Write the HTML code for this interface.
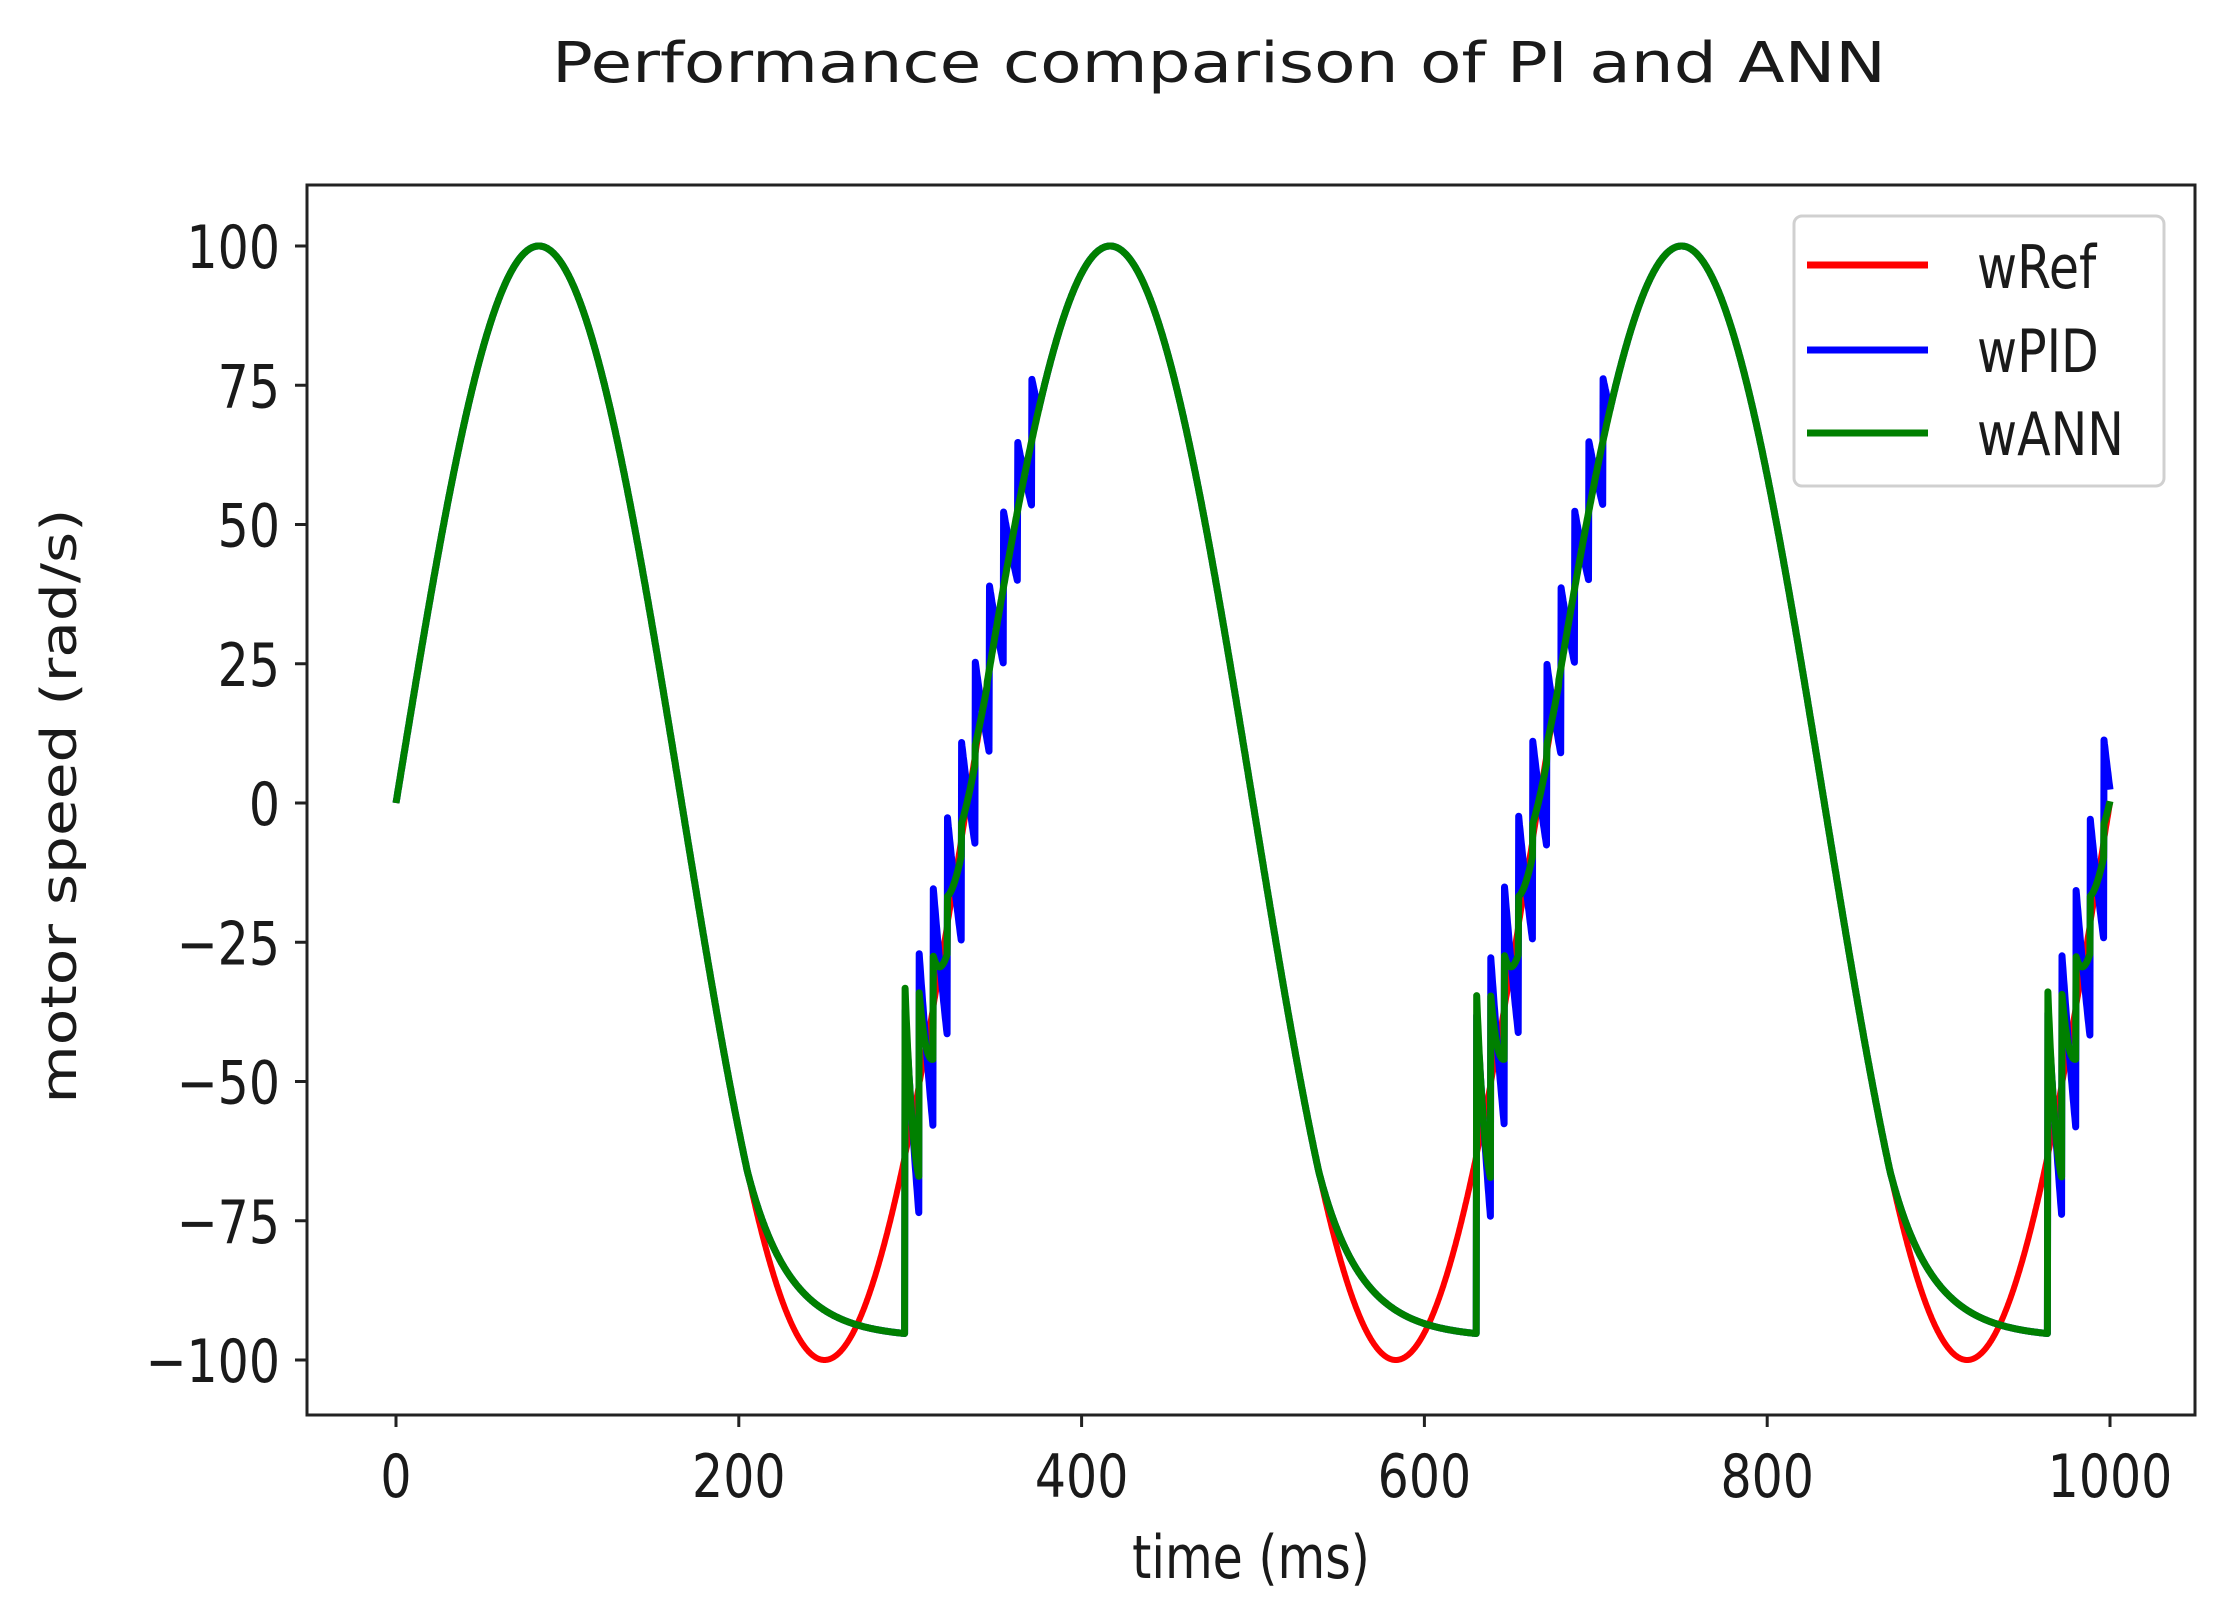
<!DOCTYPE html>
<html><head><meta charset="utf-8"><style>
html,body{margin:0;padding:0;background:#fff;}
svg{display:block;}
text{font-family:"DejaVu Sans","Liberation Sans",sans-serif;fill:#1a1a1a;}
</style></head><body>
<svg id="s" width="2214" height="1612" viewBox="0 0 2214 1612" xmlns="http://www.w3.org/2000/svg">
<rect width="2214" height="1612" fill="#fff"/>
<text x="1219" y="82" font-size="56" text-anchor="middle" textLength="1334" lengthAdjust="spacingAndGlyphs">Performance comparison of PI and ANN</text>
<g id="plot"></g>
<rect x="307" y="185" width="1888" height="1230" fill="none" stroke="#222" stroke-width="3"/>
<g id="ticks" stroke="#222" stroke-width="3"></g>
<g id="labels" font-size="49"></g>
<g transform="translate(1251,1578) scale(1,1.22)"><text x="0" y="0" font-size="49" text-anchor="middle">time (ms)</text></g>
<g transform="translate(76,806) rotate(-90) scale(1.22,1)"><text x="0" y="0" font-size="49" text-anchor="middle">motor speed (rad/s)</text></g>
<rect x="1794" y="216" width="370" height="270" rx="8" fill="#fff" stroke="#d0d0d0" stroke-width="3"/>
<line x1="1807" y1="265" x2="1928" y2="265" stroke="#ff0000" stroke-width="7"/>
<line x1="1807" y1="350" x2="1928" y2="350" stroke="#0000ff" stroke-width="7"/>
<line x1="1807" y1="433" x2="1928" y2="433" stroke="#008000" stroke-width="7"/>
<g transform="translate(1977,288) scale(1,1.22)"><text font-size="49">wRef</text></g>
<g transform="translate(1977,372) scale(1,1.22)"><text font-size="49">wPID</text></g>
<g transform="translate(1977,455) scale(1,1.22)"><text font-size="49">wANN</text></g>
</svg>
<script>
(function(){
var NS="http://www.w3.org/2000/svg";
function X(t){return 396+t*1.714;}
function Y(v){return 803-v*5.57;}
var P=1000/3;
function ref(t){return 100*Math.sin(2*Math.PI*t/P);}
function ctrl(t,amp,tau,per,end){
  if(t<205) return ref(t);
  var k=Math.floor((t-205)/P), s=t-k*P;
  var v0=ref(k*P+205);
  if(s<297){return v0+(-96-v0)*(1-Math.exp(-(s-205)/25));}
  if(s<end){
    var d=s-297; var u=(d%per)/per;
    var A=amp*Math.exp(-d/tau);
    return ref(t)+A*(1-2*u);
  }
  return ref(t);
}
function path(f,color,w){
  var d="";
  for(var t=0;t<=1000;t+=0.25){
    var v=f(t);
    d+=(t===0?"M":"L")+X(t).toFixed(1)+","+Y(v).toFixed(1);
  }
  var p=document.createElementNS(NS,"path");
  p.setAttribute("d",d);p.setAttribute("fill","none");
  p.setAttribute("stroke",color);p.setAttribute("stroke-width",w);
  p.setAttribute("stroke-linejoin","round");
  document.getElementById("plot").appendChild(p);
}
path(ref,"#ff0000",6);
path(function(t){return ctrl(t,26,90,8.2,375);},"#0000ff",7);
path(function(t){return ctrl(t,30,14,8.2,345);},"#008000",7);
var tk=document.getElementById("ticks"), lb=document.getElementById("labels");
function line(x1,y1,x2,y2){var l=document.createElementNS(NS,"line");l.setAttribute("x1",x1);l.setAttribute("y1",y1);l.setAttribute("x2",x2);l.setAttribute("y2",y2);tk.appendChild(l);}
function txt(x,y,s,anchor){var g=document.createElementNS(NS,"g");g.setAttribute("transform","translate("+x+","+y+") scale(1,1.22)");var t=document.createElementNS(NS,"text");t.setAttribute("text-anchor",anchor);t.textContent=s;g.appendChild(t);lb.appendChild(g);}
for(var t=0;t<=1000;t+=200){line(X(t),1415,X(t),1427);txt(X(t),1497,String(t),"middle");}
for(var v=-100;v<=100;v+=25){line(295,Y(v),307,Y(v));txt(280,Y(v)+22,(v<0?"\u2212"+(-v):String(v)),"end");}
})();
</script>
</body></html>
